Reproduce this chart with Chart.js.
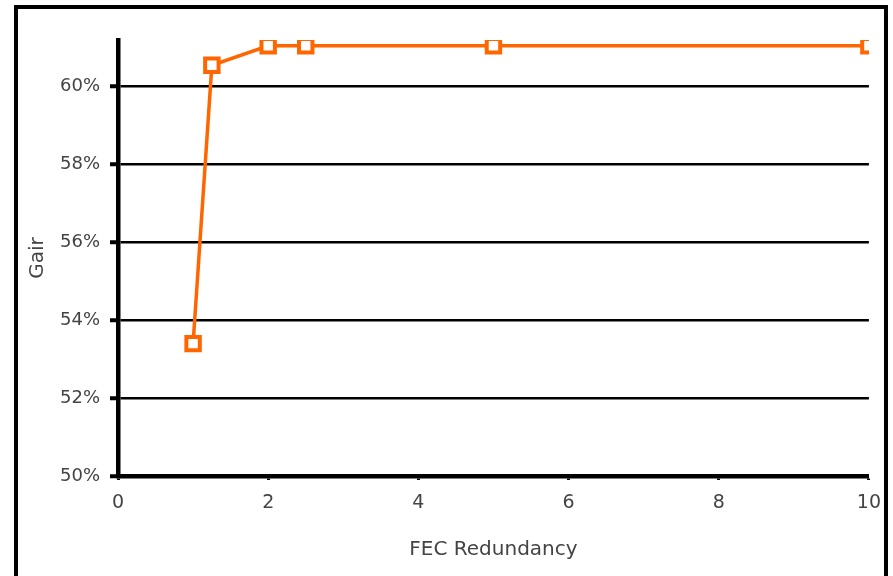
<!DOCTYPE html>
<html>
<head>
<meta charset="utf-8">
<script src="https://cdn.jsdelivr.net/npm/chart.js@4/dist/chart.umd.min.js"></script>
<style>
  html, body { margin: 0; padding: 0; background: #fff; overflow: hidden; }
  #wrap { position: relative; width: 893px; height: 576px; }
  #frame { position: absolute; left: 14px; top: 5px; width: 866px; height: 600px; border: 4px solid #000; box-sizing: content-box; pointer-events: none; }
  canvas { position: absolute; left: 0; top: 0; }
</style>
</head>
<body>
<div id="wrap">
  <div id="frame"></div>
  <canvas id="gainChart" width="893" height="576"></canvas>
</div>
<script>
const redundancy = [1, 1.25, 2, 2.5, 5, 10];
const gain = [53.4, 60.55, 61.05, 61.05, 61.05, 61.05];
const yTicks = [50, 52, 54, 56, 58, 60];
const xTicks = [0, 2, 4, 6, 8, 10];

const orange = '#ff6600';
const textColor = '#444444';
const fontFamily = '"DejaVu Sans", sans-serif';

const points = redundancy.map((x, i) => ({ x: x, y: gain[i] }));

const ctx = document.getElementById('gainChart').getContext('2d');

new Chart(ctx, {
  type: 'line',
  data: {
    datasets: [{
      label: 'Gain',
      data: points,
      borderColor: orange,
      borderWidth: 3.5,
      pointStyle: 'rect',
      pointRadius: 9.5,
      pointBorderWidth: 4,
      pointBorderColor: orange,
      pointBackgroundColor: '#ffffff',
      fill: false,
      tension: 0
    }]
  },
  options: {
    responsive: false,
    animation: false,
    layout: { padding: { left: 20, right: 23, top: 40, bottom: 0 } },
    plugins: {
      legend: { display: false },
      tooltip: { enabled: false }
    },
    scales: {
      x: {
        type: 'linear',
        min: 0,
        max: 10,
        afterBuildTicks: (scale) => { scale.ticks = xTicks.map(v => ({ value: v })); },
        afterFit: (scale) => { scale.height = 100; },
        grid: { drawOnChartArea: false, drawTicks: true, tickLength: 4, tickWidth: 3, tickColor: '#000' },
        border: { display: true, color: '#000', width: 4.5 },
        ticks: { color: textColor, padding: 12, font: { family: fontFamily, size: 19 } },
        title: {
          display: true,
          text: 'FEC Redundancy',
          color: textColor,
          padding: { top: 0, bottom: 14 },
          font: { family: fontFamily, size: 20 }
        }
      },
      y: {
        type: 'linear',
        min: 50,
        max: 61.2,
        afterBuildTicks: (scale) => { scale.ticks = yTicks.map(v => ({ value: v })); },
        afterFit: (scale) => { scale.width = 98; },
        grid: { color: '#000', lineWidth: 2.5, drawTicks: true, tickLength: 8, tickWidth: 4, tickColor: '#000' },
        border: { display: true, color: '#000', width: 4.5 },
        ticks: {
          color: textColor,
          padding: 10,
          font: { family: fontFamily, size: 18 },
          callback: (v) => v + '%'
        },
        title: {
          display: true,
          text: 'Gair',
          color: textColor,
          padding: { top: 6, bottom: 0 },
          font: { family: fontFamily, size: 20 }
        }
      }
    }
  }
});
</script>
</body>
</html>
